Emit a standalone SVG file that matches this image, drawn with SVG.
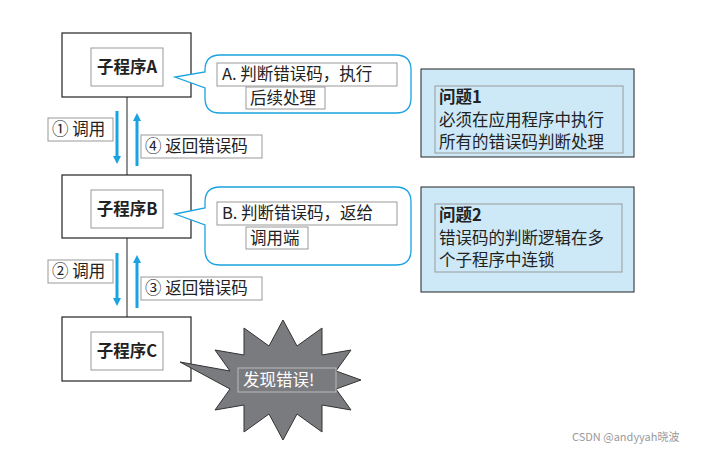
<svg xmlns="http://www.w3.org/2000/svg" width="707" height="449" viewBox="0 0 707 449">
<style>
text{font-family:"Noto Sans CJK SC","Liberation Sans",sans-serif;font-size:16.5px;fill:#222}
.node{fill:#fff;stroke:#222;stroke-width:1.2}
.lb{fill:none;stroke:#999;stroke-width:1}
.b{font-weight:bold}
.prob{fill:#cde9f8;stroke:#222;stroke-width:1}
.arr{stroke:#1aa3e0;stroke-width:3;fill:none}
</style>
<defs>
<marker id="ah" markerWidth="8" markerHeight="8" refX="4" refY="4" orient="auto" markerUnits="userSpaceOnUse"><path d="M0,0 L8,4 L0,8 Z" fill="#1aa3e0"/></marker>
</defs>
<rect width="707" height="449" fill="#fff"/>
<g id="connectors">
<line x1="127" y1="97" x2="127" y2="175" stroke="#222"/>
<line x1="127" y1="238" x2="127" y2="317" stroke="#222"/>
<line class="arr" x1="117" y1="111" x2="117" y2="160" marker-end="url(#ah)"/>
<line class="arr" x1="137" y1="166" x2="137" y2="117" marker-end="url(#ah)"/>
<line class="arr" x1="117" y1="253" x2="117" y2="302" marker-end="url(#ah)"/>
<line class="arr" x1="137" y1="308" x2="137" y2="259" marker-end="url(#ah)"/>
<rect class="lb" x="48" y="118" width="65" height="23"/><text x="52" y="135">① 调用</text>
<rect class="lb" x="141" y="135" width="121" height="23"/><text x="145" y="152">④ 返回错误码</text>
<rect class="lb" x="48" y="260" width="65" height="23"/><text x="52" y="277">② 调用</text>
<rect class="lb" x="141" y="277" width="121" height="23"/><text x="145" y="294">③ 返回错误码</text>
</g>
<g id="nodeA"><rect class="node" x="62" y="33" width="129" height="64"/><rect class="lb" x="91" y="48" width="72" height="38"/><text class="b" x="127" y="73" text-anchor="middle">子程序A</text></g>
<g id="nodeB"><rect class="node" x="62" y="175" width="129" height="63"/><rect class="lb" x="91" y="190" width="72" height="38"/><text class="b" x="127" y="215" text-anchor="middle">子程序B</text></g>
<g id="nodeC"><rect class="node" x="62" y="317" width="129" height="64"/><rect class="lb" x="91" y="332" width="72" height="38"/><text class="b" x="127" y="357" text-anchor="middle">子程序C</text></g>
<g id="calloutA">
<path d="M220,55 H396 Q411,55 411,70 V98 Q411,113 396,113 H220 Q205,113 205,98 V88 L175,77 L205,72 V70 Q205,55 220,55 Z" fill="#fff" stroke="#1aa3e0" stroke-width="1.3"/>
<rect class="lb" x="217" y="63" width="180" height="23"/><text x="222" y="80">A. 判断错误码，执行</text>
<rect class="lb" x="246" y="87" width="79" height="22"/><text x="250" y="104">后续处理</text>
</g>
<g id="calloutB">
<path d="M220,187 H396 Q411,187 411,202 V250 Q411,265 396,265 H220 Q205,265 205,250 V225 L175,214 L205,208 V202 Q205,187 220,187 Z" fill="#fff" stroke="#1aa3e0" stroke-width="1.3"/>
<rect class="lb" x="217" y="202" width="180" height="23"/><text x="222" y="219">B. 判断错误码，返给</text>
<rect class="lb" x="246" y="227" width="62" height="22"/><text x="250" y="244">调用端</text>
</g>
<g id="problem1"><rect class="prob" x="421" y="69" width="213" height="88"/><rect class="lb" x="435" y="86" width="188" height="67"/>
<text class="b" x="439" y="103">问题1</text><text x="439" y="126">必须在应用程序中执行</text><text x="439" y="148">所有的错误码判断处理</text></g>
<g id="problem2"><rect class="prob" x="421" y="187" width="213" height="105"/><rect class="lb" x="435" y="204" width="187" height="68"/>
<text class="b" x="439" y="221">问题2</text><text x="439" y="244">错误码的判断逻辑在多</text><text x="439" y="266">个子程序中连锁</text></g>
<g id="error">
<polygon points="361,380 336,389 351,410 322,405 322,432 297,414 283,440 269,414 244,432 244,405 215,410 230,389 180,362 230,371 215,350 244,355 244,328 269,346 283,320 297,346 322,328 322,355 351,350 336,371" fill="#7a7b7f" stroke="#333" stroke-width="1"/>
<rect x="238" y="368" width="98" height="24" fill="none" stroke="#bbb"/>
<text x="243" y="386" style="fill:#fff">发现错误!</text>
</g>
<text x="572" y="441" style="font-size:11px;fill:#999">CSDN @andyyah晓波</text>
</svg>
